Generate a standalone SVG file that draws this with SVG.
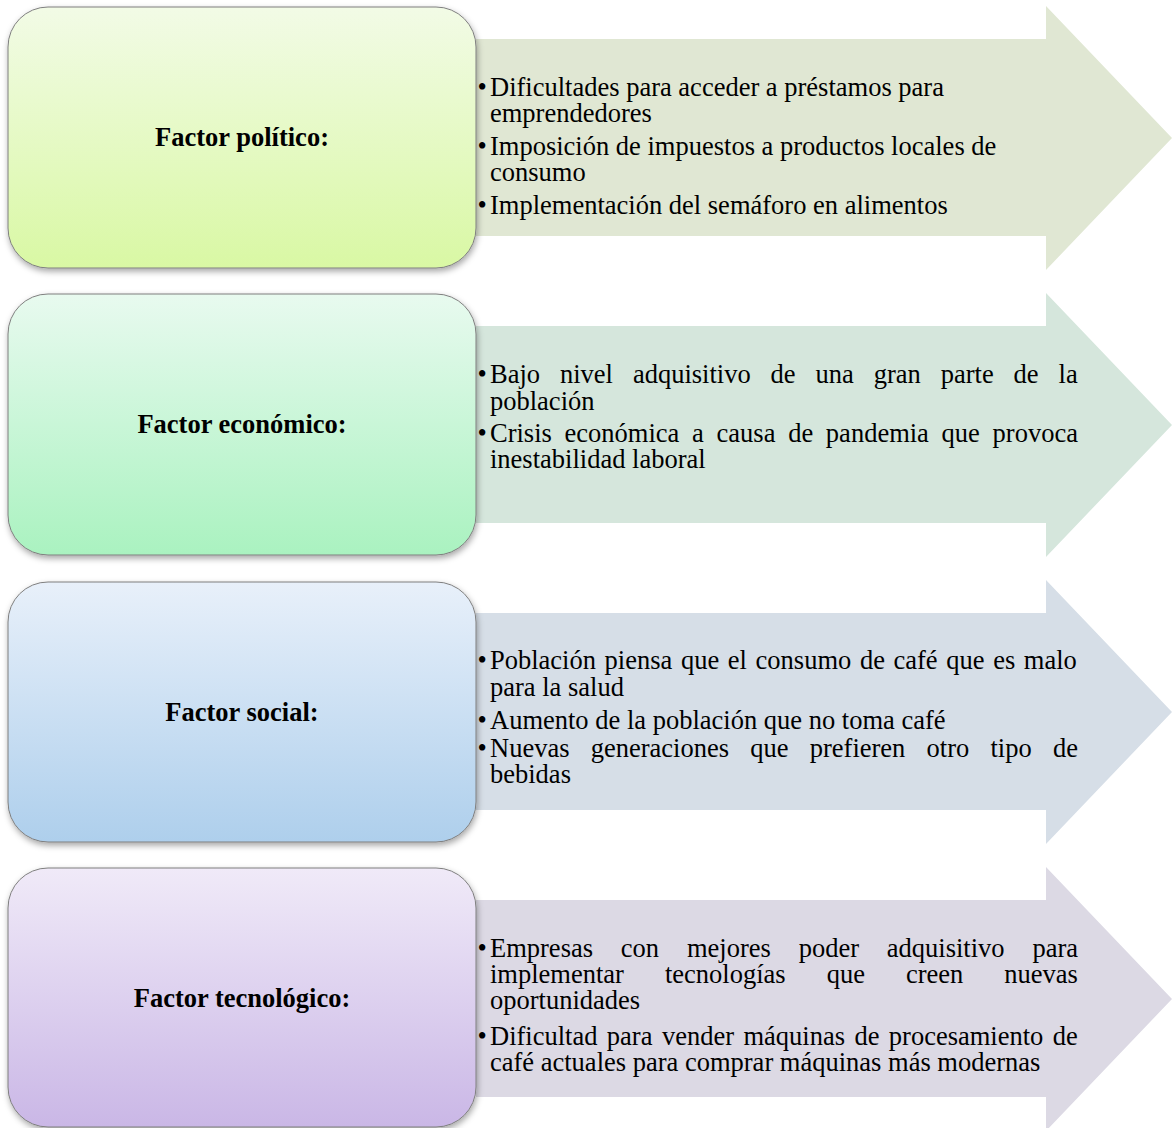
<svg xmlns="http://www.w3.org/2000/svg" width="1172" height="1128" viewBox="0 0 1172 1128">
  <defs>
    <linearGradient id="g1" x1="0" y1="0" x2="0" y2="1">
      <stop offset="0" stop-color="#f2fbe6"/>
      <stop offset="1" stop-color="#d9f8a4"/>
    </linearGradient>
    <linearGradient id="g2" x1="0" y1="0" x2="0" y2="1">
      <stop offset="0" stop-color="#e8faef"/>
      <stop offset="1" stop-color="#aaf2c0"/>
    </linearGradient>
    <linearGradient id="g3" x1="0" y1="0" x2="0" y2="1">
      <stop offset="0" stop-color="#e8f0fa"/>
      <stop offset="1" stop-color="#aecfec"/>
    </linearGradient>
    <linearGradient id="g4" x1="0" y1="0" x2="0" y2="1">
      <stop offset="0" stop-color="#f0eaf8"/>
      <stop offset="1" stop-color="#cab7e6"/>
    </linearGradient>
    <filter id="sh" x="-5%" y="-5%" width="112%" height="115%">
      <feDropShadow dx="1" dy="3" stdDeviation="3" flood-color="#000" flood-opacity="0.35"/>
    </filter>
  </defs>
  <style>
    .box { stroke: #7f7f7f; stroke-width: 1; filter: url(#sh); }
    .title { font-family: "Liberation Serif", "Times New Roman", serif; font-weight: bold; font-size: 26.5px; fill: #000; text-anchor: middle; }
    .txt { font-family: "Liberation Serif", "Times New Roman", serif; font-size: 26.5px; fill: #000; }
  </style>

  <g id="connectors">
    <polygon id="arrow1" fill="#e0e7d3" points="476,39 1046,39 1046,6 1172,138 1046,270 1046,236 476,236"/>
    <polygon id="arrow2" fill="#d5e6dc" points="476,326 1046,326 1046,293 1172,425 1046,557 1046,523 476,523"/>
    <polygon id="arrow3" fill="#d6dee7" points="476,613 1046,613 1046,580 1172,712 1046,844 1046,810 476,810"/>
    <polygon id="arrow4" fill="#dcd9e4" points="476,900 1046,900 1046,867 1172,999 1046,1131 1046,1097 476,1097"/>
  </g>

  <g id="text1" class="txt">
    <text y="96"><tspan x="477.5">•</tspan><tspan x="490">Dificultades para acceder a préstamos para</tspan></text>
    <text x="490" y="122">emprendedores</text>
    <text y="155"><tspan x="477.5">•</tspan><tspan x="490">Imposición de impuestos a productos locales de</tspan></text>
    <text x="490" y="181">consumo</text>
    <text y="214"><tspan x="477.5">•</tspan><tspan x="490">Implementación del semáforo en alimentos</tspan></text>
  </g>
  <g id="text2" class="txt">
    <text y="383"><tspan x="477.5">•</tspan><tspan x="490" word-spacing="13.3">Bajo nivel adquisitivo de una gran parte de la</tspan></text>
    <text x="490" y="410">población</text>
    <text y="442"><tspan x="477.5">•</tspan><tspan x="490" word-spacing="6.1">Crisis económica a causa de pandemia que provoca</tspan></text>
    <text x="490" y="468">inestabilidad laboral</text>
  </g>
  <g id="text3" class="txt">
    <text y="669"><tspan x="477.5">•</tspan><tspan x="490" word-spacing="2.0">Población piensa que el consumo de café que es malo</tspan></text>
    <text x="490" y="696">para la salud</text>
    <text y="729"><tspan x="477.5">•</tspan><tspan x="490">Aumento de la población que no toma café</tspan></text>
    <text y="757"><tspan x="477.5">•</tspan><tspan x="490" word-spacing="14.6">Nuevas generaciones que prefieren otro tipo de</tspan></text>
    <text x="490" y="783">bebidas</text>
  </g>
  <g id="text4" class="txt">
    <text y="957"><tspan x="477.5">•</tspan><tspan x="490" word-spacing="21.2">Empresas con mejores poder adquisitivo para</tspan></text>
    <text x="490" y="983" word-spacing="34.4">implementar tecnologías que creen nuevas</text>
    <text x="490" y="1009">oportunidades</text>
    <text y="1045"><tspan x="477.5">•</tspan><tspan x="490" word-spacing="2.8">Dificultad para vender máquinas de procesamiento de</tspan></text>
    <text x="490" y="1071">café actuales para comprar máquinas más modernas</text>
  </g>

  <g id="node1">
    <rect class="box" x="8" y="7" width="468" height="261" rx="40" ry="40" fill="url(#g1)"/>
    <text class="title" x="242" y="146">Factor político:</text>
  </g>
  <g id="node2">
    <rect class="box" x="8" y="294" width="468" height="261" rx="40" ry="40" fill="url(#g2)"/>
    <text class="title" x="242" y="433">Factor económico:</text>
  </g>
  <g id="node3">
    <rect class="box" x="8" y="582" width="468" height="260" rx="40" ry="40" fill="url(#g3)"/>
    <text class="title" x="242" y="721">Factor social:</text>
  </g>
  <g id="node4">
    <rect class="box" x="8" y="868" width="468" height="259" rx="40" ry="40" fill="url(#g4)"/>
    <text class="title" x="242" y="1007">Factor tecnológico:</text>
  </g>
</svg>
